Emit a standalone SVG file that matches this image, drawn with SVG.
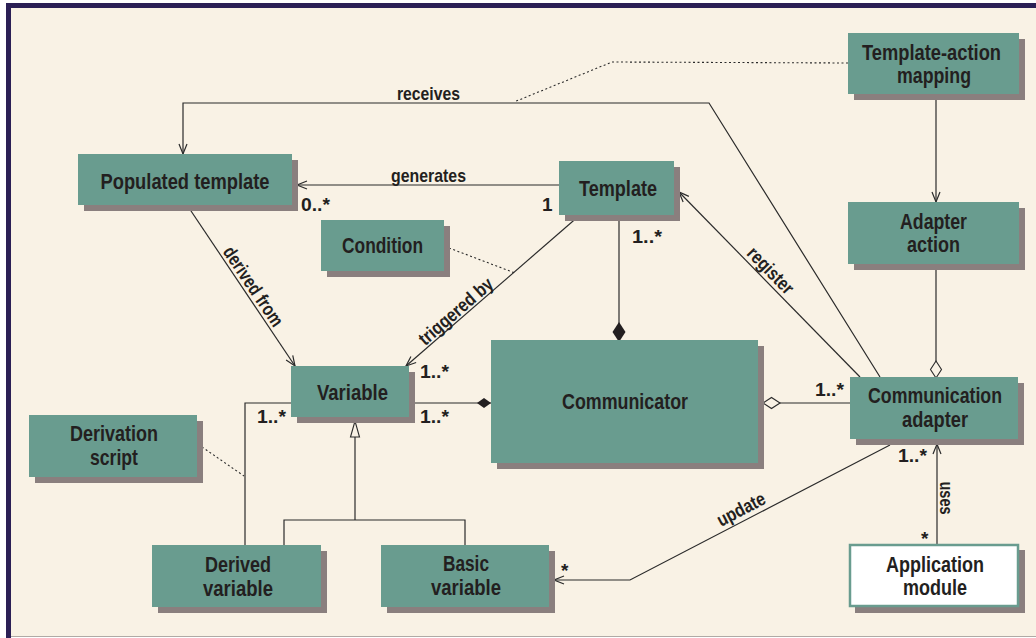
<svg xmlns="http://www.w3.org/2000/svg" width="1036" height="638" viewBox="0 0 1036 638">
<defs>
<style>
.box{fill:#699c8f}
.sh{fill:#8a7f7e}
.nt{font-family:"Liberation Sans",Arial,sans-serif;font-weight:bold;font-size:22.5px;fill:#231f20;text-anchor:middle}
.lb{font-family:"Liberation Sans",Arial,sans-serif;font-weight:bold;font-size:19px;fill:#231f20}
.ln{fill:none;stroke:#2b2b2b;stroke-width:1.2}
.dot{fill:none;stroke:#2b2b2b;stroke-width:1.1;stroke-dasharray:2,2.5}
</style>
<marker id="open" markerUnits="userSpaceOnUse" markerWidth="12" markerHeight="10" refX="10" refY="4" orient="auto" overflow="visible">
<path d="M0,0 L10,4 L0,8" fill="none" stroke="#2b2b2b" stroke-width="1.2"/>
</marker>
<marker id="dfl" markerUnits="userSpaceOnUse" markerWidth="22" markerHeight="14" refX="20" refY="6.5" orient="auto" overflow="visible">
<path d="M0,6.5 L10,0 L20,6.5 L10,13 Z" fill="#231f20"/>
</marker>
<marker id="dfs" markerUnits="userSpaceOnUse" markerWidth="16" markerHeight="12" refX="14" refY="5" orient="auto" overflow="visible">
<path d="M0,5 L7,0 L14,5 L7,10 Z" fill="#231f20"/>
</marker>
<marker id="dh" markerUnits="userSpaceOnUse" markerWidth="20" markerHeight="14" refX="17" refY="5.5" orient="auto" overflow="visible">
<path d="M0,5.5 L8.5,0 L17,5.5 L8.5,11 Z" fill="#f9f2e5" stroke="#2b2b2b" stroke-width="1.1"/>
</marker>
<marker id="tri" markerUnits="userSpaceOnUse" markerWidth="18" markerHeight="12" refX="16" refY="4.5" orient="auto" overflow="visible">
<path d="M0,0 L16,4.5 L0,9 Z" fill="#f9f2e5" stroke="#2b2b2b" stroke-width="1.1"/>
</marker>
</defs>

<rect x="0" y="0" width="1036" height="638" fill="#ffffff"/>
<rect x="11" y="8" width="1025" height="628" fill="#f9f2e5"/>
<rect x="6" y="3" width="1030" height="5" fill="#2b1f55"/>
<rect x="6" y="3" width="5" height="635" fill="#2b1f55"/>
<line x1="11" y1="636.5" x2="1036" y2="636.5" stroke="#b0aaa5" stroke-width="1"/>

<g id="connectors">
<path class="ln" d="M880,377 L709,103 L183,103 L183,154" marker-end="url(#open)"/>
<path class="dot" d="M848,63 L612,62 L514,102"/>
<path class="ln" d="M559,185 L297,185" marker-end="url(#open)"/>
<path class="ln" d="M187,205 L295,366" marker-end="url(#open)"/>
<path class="ln" d="M580,215 L406,366" marker-end="url(#open)"/>
<path class="dot" d="M449,248 L515,273"/>
<path class="ln" d="M619,215 L619,342" marker-end="url(#dfl)"/>
<path class="ln" d="M409,403 L491,403" marker-end="url(#dfs)"/>
<path class="ln" d="M850,403 L763,403" marker-end="url(#dh)"/>
<path class="ln" d="M936,264 L936,378" marker-end="url(#dh)"/>
<path class="ln" d="M936,94 L936,202" marker-end="url(#open)"/>
<path class="ln" d="M860,377 L679,192" marker-end="url(#open)"/>
<path class="ln" d="M291,403 L245,403 L245,545"/>
<path class="dot" d="M202,447 L244,476"/>
<path class="ln" d="M284,545 L284,520 L465,520 L465,545"/>
<path class="ln" d="M355,520 L355,421" marker-end="url(#tri)"/>
<path class="ln" d="M890,445 L630,580 L554,580" marker-end="url(#open)"/>
<path class="ln" d="M937,544 L937,444" marker-end="url(#open)"/>

<text class="lb" x="428.5" y="100" text-anchor="middle" textLength="63" lengthAdjust="spacingAndGlyphs">receives</text>
<text class="lb" x="428.5" y="182" text-anchor="middle" textLength="75" lengthAdjust="spacingAndGlyphs">generates</text>
<text class="lb" x="301" y="211" textLength="29" lengthAdjust="spacingAndGlyphs">0..*</text>
<text class="lb" x="542" y="211">1</text>
<text class="lb" x="632" y="243" textLength="30" lengthAdjust="spacingAndGlyphs">1..*</text>
<text class="lb" x="420" y="378" textLength="29" lengthAdjust="spacingAndGlyphs">1..*</text>
<text class="lb" x="420" y="423" textLength="29" lengthAdjust="spacingAndGlyphs">1..*</text>
<text class="lb" x="257" y="423" textLength="29" lengthAdjust="spacingAndGlyphs">1..*</text>
<text class="lb" x="815" y="396" textLength="29" lengthAdjust="spacingAndGlyphs">1..*</text>
<text class="lb" x="898" y="462" textLength="29" lengthAdjust="spacingAndGlyphs">1..*</text>
<text class="lb" x="921" y="545">*</text>
<text class="lb" x="561" y="577">*</text>
<text class="lb" transform="translate(248,290) rotate(56)" text-anchor="middle" textLength="92" lengthAdjust="spacingAndGlyphs">derived from</text>
<text class="lb" transform="translate(460,316) rotate(-41)" text-anchor="middle" textLength="92" lengthAdjust="spacingAndGlyphs">triggered by</text>
<text class="lb" transform="translate(766,275) rotate(45.6)" text-anchor="middle" textLength="58" lengthAdjust="spacingAndGlyphs">register</text>
<text class="lb" transform="translate(744,515) rotate(-27.4)" text-anchor="middle" textLength="52" lengthAdjust="spacingAndGlyphs">update</text>
<text class="lb" transform="translate(940,498) rotate(90)" text-anchor="middle" textLength="33" lengthAdjust="spacingAndGlyphs">uses</text>
</g>

<g id="n-populated">
<rect class="sh" x="84" y="160" width="214" height="51"/>
<rect class="box" x="78" y="154" width="214" height="51"/>
<text class="nt" x="185" y="189" textLength="169" lengthAdjust="spacingAndGlyphs">Populated template</text>
</g>
<g id="n-template">
<rect class="sh" x="565" y="167" width="115" height="54"/>
<rect class="box" x="559" y="161" width="115" height="54"/>
<text class="nt" x="618" y="196" textLength="78" lengthAdjust="spacingAndGlyphs">Template</text>
</g>
<g id="n-condition">
<rect class="sh" x="327" y="226" width="123" height="51"/>
<rect class="box" x="321" y="220" width="123" height="51"/>
<text class="nt" x="382.5" y="253" textLength="81" lengthAdjust="spacingAndGlyphs">Condition</text>
</g>
<g id="n-variable">
<rect class="sh" x="297" y="372" width="118" height="51"/>
<rect class="box" x="291" y="366" width="118" height="51"/>
<text class="nt" x="352.5" y="400" textLength="71" lengthAdjust="spacingAndGlyphs">Variable</text>
</g>
<g id="n-communicator">
<rect class="sh" x="497" y="346" width="267" height="123"/>
<rect class="box" x="491" y="340" width="267" height="123"/>
<text class="nt" x="625" y="409" textLength="126" lengthAdjust="spacingAndGlyphs">Communicator</text>
</g>
<g id="n-comm-adapter">
<rect class="sh" x="856" y="383" width="168" height="62"/>
<rect class="box" x="850" y="377" width="168" height="62"/>
<text class="nt" x="935" y="403" textLength="134" lengthAdjust="spacingAndGlyphs">Communication</text>
<text class="nt" x="935" y="427" textLength="66" lengthAdjust="spacingAndGlyphs">adapter</text>
</g>
<g id="n-app-module">
<rect class="sh" x="855" y="550" width="170" height="63"/>
<rect x="850" y="545" width="168" height="61" fill="#ffffff" stroke="#699c8f" stroke-width="2.5"/>
<text class="nt" x="935" y="572" textLength="98" lengthAdjust="spacingAndGlyphs">Application</text>
<text class="nt" x="935" y="595" textLength="64" lengthAdjust="spacingAndGlyphs">module</text>
</g>
<g id="n-derivation-script">
<rect class="sh" x="35" y="421" width="168" height="62"/>
<rect class="box" x="29" y="415" width="168" height="62"/>
<text class="nt" x="114" y="441" textLength="88" lengthAdjust="spacingAndGlyphs">Derivation</text>
<text class="nt" x="114" y="465" textLength="48" lengthAdjust="spacingAndGlyphs">script</text>
</g>
<g id="n-derived-variable">
<rect class="sh" x="158" y="551" width="169" height="62"/>
<rect class="box" x="152" y="545" width="169" height="62"/>
<text class="nt" x="238" y="572" textLength="66" lengthAdjust="spacingAndGlyphs">Derived</text>
<text class="nt" x="238" y="596" textLength="70" lengthAdjust="spacingAndGlyphs">variable</text>
</g>
<g id="n-basic-variable">
<rect class="sh" x="387" y="551" width="168" height="62"/>
<rect class="box" x="381" y="545" width="168" height="62"/>
<text class="nt" x="466" y="571" textLength="46" lengthAdjust="spacingAndGlyphs">Basic</text>
<text class="nt" x="466" y="595" textLength="70" lengthAdjust="spacingAndGlyphs">variable</text>
</g>
<g id="n-adapter-action">
<rect class="sh" x="854" y="208" width="171" height="62"/>
<rect class="box" x="848" y="202" width="171" height="62"/>
<text class="nt" x="933.5" y="229" textLength="67" lengthAdjust="spacingAndGlyphs">Adapter</text>
<text class="nt" x="933.5" y="252" textLength="53" lengthAdjust="spacingAndGlyphs">action</text>
</g>
<g id="n-template-action-mapping">
<rect class="sh" x="854" y="39" width="171" height="61"/>
<rect class="box" x="848" y="33" width="171" height="61"/>
<text class="nt" x="931.5" y="60" textLength="139" lengthAdjust="spacingAndGlyphs">Template-action</text>
<text class="nt" x="934" y="83" textLength="74" lengthAdjust="spacingAndGlyphs">mapping</text>
</g>
</svg>
